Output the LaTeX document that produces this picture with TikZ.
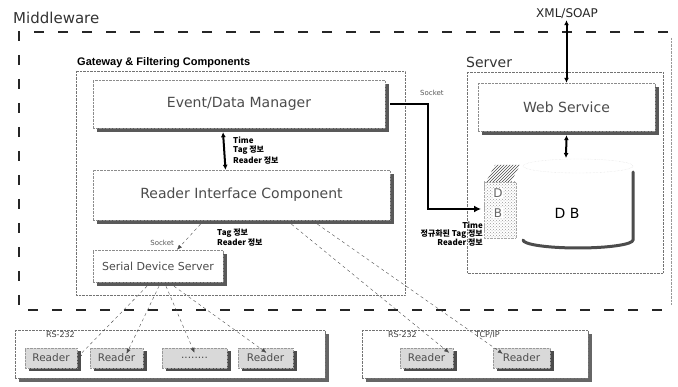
\documentclass[tikz,border=0pt]{standalone}
\usepackage{fontspec}
\setmainfont{DejaVu Sans}
\newfontfamily\kr{Noto Sans CJK KR}
\newfontfamily\lib{Liberation Sans}
\usetikzlibrary{shadows,arrows.meta,patterns}
\begin{document}
\begin{tikzpicture}[x=1pt,y=-1pt,
  lbl/.style={font=\kr\bfseries\fontsize{8}{9}\selectfont, inner sep=0pt},
  small/.style={font=\fontsize{7}{8}\selectfont, text=black!65, inner sep=0pt},
  sbox/.style={draw=black!45, densely dotted, fill=white, inner sep=0pt, text=black!70,
    general shadow={fill=black!65, shadow xshift=4pt, shadow yshift=-4pt}},
  gbox/.style={draw=black!55, densely dotted, fill=white, inner sep=0pt,
    general shadow={fill=black!60, shadow xshift=4pt, shadow yshift=-4pt}},
  rbox/.style={draw=black!40, densely dotted, fill=black!15, inner sep=0pt, minimum height=20pt,
    font=\fontsize{10.5}{12}\selectfont, text=black!70,
    general shadow={fill=black!70, shadow xshift=4pt, shadow yshift=-3pt}},
  dbl/.style={line width=2pt, {Latex[length=5pt,width=5pt]}-{Latex[length=5pt,width=5pt]}},
  sock/.style={line width=2.6pt, -{Latex[length=7pt,width=7pt]}},
  dasharrow/.style={dashed, thin, black!70, -{Latex[length=5pt,width=4pt]}},
]
\useasboundingbox (0,0) rectangle (678,387);

% Middleware frame
\node[anchor=west, font=\fontsize{15}{18}\selectfont, text=black!80, inner sep=0pt] (mw) at (13,18) {Middleware};
\draw[line width=1.5pt, dash pattern=on 10pt off 14pt, black!85] (668,32) -- (19,32) -- (19,310) -- (668,310);
\draw[densely dotted, black!40] (671,38) -- (671,305);

% Gateway
\node[anchor=west, font=\lib\bfseries\fontsize{11}{13}\selectfont, inner sep=0pt] (gwl) at (77,63) {Gateway \& Filtering Components};
\draw[densely dotted, black!55] (76,71) rectangle (405,295);

\node[sbox, minimum width=292pt, minimum height=48pt, font=\fontsize{14}{16}\selectfont] (edm) at (239,104) {Event/Data Manager};
\node[sbox, minimum width=297pt, minimum height=50pt, font=\fontsize{14}{16}\selectfont] (rif) at (241.5,195) {Reader Interface Component};
\node[sbox, minimum width=130pt, minimum height=32pt, font=\fontsize{11}{13}\selectfont] (sds) at (158,266) {Serial Device Server};

\draw[dbl] ([xshift=-16pt,yshift=-4pt]edm.south) -- ([xshift=-16pt]rif.north);
\node[lbl, anchor=west] (t1) at (233,140) {Time};
\node[lbl, anchor=west] (t2) at (233,150) {Tag 정보};
\node[lbl, anchor=west] (t3) at (233,161) {Reader 정보};

% Server
\node[anchor=west, font=\fontsize{14}{16}\selectfont, text=black!80, inner sep=0pt] (srvl) at (466,62) {Server};
\draw[densely dotted, black!55] (467,72) rectangle (663,273);
\node[sbox, minimum width=177pt, minimum height=48pt, font=\fontsize{14}{16}\selectfont] (ws) at (566.5,107) {Web Service};
\node[font=\fontsize{12}{14}\selectfont, text=black!85, inner sep=1pt] (xml) at (567,14) {XML/SOAP};
\draw[dbl] (ws.north |- xml.south) -- (ws.north);

% DB cylinder
\coordinate (dbtop) at (566,158);
\draw[dbl] ([yshift=-4pt]ws.south) -- (dbtop);
\draw[black!15, densely dotted] (578,166) ellipse [x radius=55, y radius=7];
\draw[line width=3pt, black!70, line cap=round] (633,172) -- (633,240) arc[start angle=0, end angle=180, x radius=55, y radius=8];
\node[font=\fontsize{14}{16}\selectfont] (dbt) at (567,213) {D B};

% DB document icon
\fill[pattern=crosshatch dots, pattern color=black!40] (484,182) rectangle (516,238);
\draw[densely dotted, black!35] (484,182) rectangle (516,238);
\fill[pattern=north east lines, pattern color=black!70] (486,182) -- (495,165) -- (520,165) -- (511,182) -- cycle;
\node[text=black!60, font=\fontsize{12}{14}\selectfont, fill=white, inner sep=0.5pt] (dd) at (498,193) {D};
\node[text=black!60, font=\fontsize{12}{14}\selectfont, fill=white, inner sep=0.5pt] (db2) at (498,213) {B};

% Socket arrow to DB
\coordinate (dbin) at (481,209);
\draw[sock] ([xshift=5pt]edm.east) -| (428,209) -- (dbin);
\node[small, anchor=west] (sk1) at (420,93) {Socket};
\node[lbl, anchor=east] (u1) at (483,225) {Time};
\node[lbl, anchor=east] (u2) at (483,234) {정규화된 Tag 정보};
\node[lbl, anchor=east] (u3) at (483,243) {Reader 정보};

% Reader interface to serial device server
\draw[dasharrow] ([xshift=-41pt,yshift=-4pt]rif.south) -- ([xshift=19pt]sds.north);
\node[small, anchor=east] (sk2) at (174,243) {Socket};
\node[lbl, anchor=west] (v1) at (217,233) {Tag 정보};
\node[lbl, anchor=west] (v2) at (217,243) {Reader 정보};

% Reader groups
\node[gbox, minimum width=310pt, minimum height=48pt] (g1) at (170,354) {};
\node[gbox, minimum width=226pt, minimum height=48pt] (g2) at (475,354) {};

\node[rbox, minimum width=52pt] (r1) at (51,358) {Reader};
\node[rbox, minimum width=53pt] (r2) at (116.5,358) {Reader};
\node[rbox, minimum width=65pt] (r3) at (194.5,358) {........};
\node[rbox, minimum width=55pt] (r4) at (265.5,358) {Reader};
\node[rbox, minimum width=53pt] (r5) at (426.5,358) {Reader};
\node[rbox, minimum width=57pt] (r6) at (521.5,358) {Reader};

\node[font=\fontsize{8}{9}\selectfont, anchor=east, inner sep=0pt, text=black!75] (rs1) at (75,335) {RS-232};
\node[font=\fontsize{8}{9}\selectfont, anchor=east, inner sep=0pt, text=black!75] (rs2) at (417,335) {RS-232};
\node[font=\fontsize{8}{9}\selectfont, anchor=east, inner sep=0pt, text=black!75] (tcp) at (500,335) {TCP/IP};

% serial device server to readers
\draw[dasharrow] ([xshift=-11pt,yshift=-4pt]sds.south) -- ([xshift=26pt,yshift=-10pt]r1.north);
\draw[dasharrow] ([xshift=1pt,yshift=-4pt]sds.south) -- ([xshift=10pt,yshift=-6pt]r2.north);
\draw[dasharrow] ([xshift=8pt,yshift=-4pt]sds.south) -- ([yshift=-5pt]r3.north);
\draw[dasharrow] ([xshift=16pt,yshift=-4pt]sds.south) -- ([xshift=1pt,yshift=-5pt]r4.north);

% reader interface to right-group readers
\draw[dasharrow] ([xshift=50pt,yshift=-4pt]rif.south) -- ([xshift=-4pt,yshift=-5pt]r5.north east);
\draw[dasharrow] ([xshift=76pt,yshift=-4pt]rif.south) -- ([xshift=10pt,yshift=-6pt]r6.north west);
\end{tikzpicture}
\end{document}
